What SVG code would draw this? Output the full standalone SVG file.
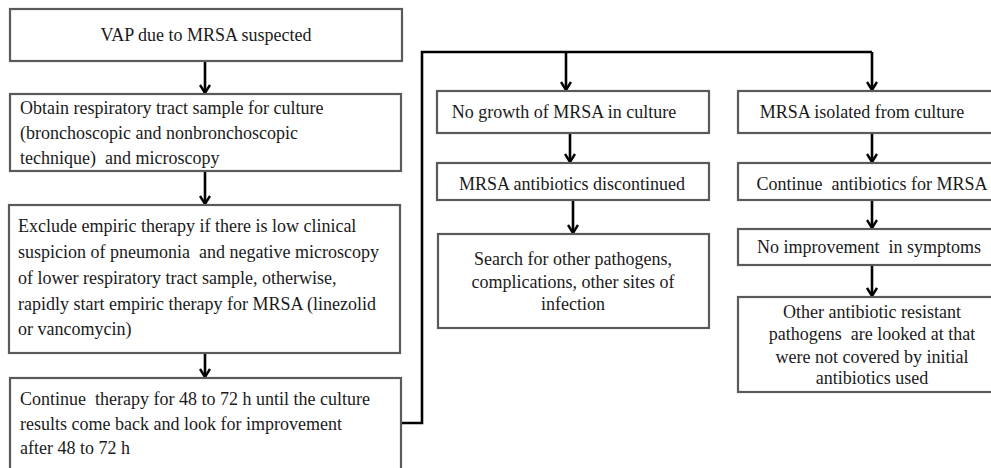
<svg xmlns="http://www.w3.org/2000/svg" width="991" height="468" viewBox="0 0 991 468">
<style>
.box{fill:#fff;stroke:#5a5a5a;stroke-width:2.2}
.t{font-size:18px;fill:#1a1a1a}
.c{text-anchor:middle}
.ln{fill:none;stroke:#000;stroke-width:2.6}
</style>
<defs>
<marker id="ah" viewBox="0 0 10 12" refX="9" refY="6" markerWidth="10" markerHeight="12" markerUnits="userSpaceOnUse" orient="auto">
<path d="M1,1 L9,6 L1,11" fill="none" stroke="#000" stroke-width="2.4"/>
</marker>
</defs>
<rect width="991" height="468" fill="#fff"/>
<g id="connectors">
<line class="ln" x1="205" y1="61" x2="205" y2="93" marker-end="url(#ah)"/>
<line class="ln" x1="205" y1="171" x2="205" y2="204" marker-end="url(#ah)"/>
<line class="ln" x1="205" y1="353" x2="205" y2="377" marker-end="url(#ah)"/>
<polyline class="ln" points="401,423 422,423 422,52 872,52"/>
<line class="ln" x1="566" y1="52" x2="566" y2="90" marker-end="url(#ah)"/>
<line class="ln" x1="872" y1="52" x2="872" y2="90" marker-end="url(#ah)"/>
<line class="ln" x1="570" y1="133" x2="570" y2="162" marker-end="url(#ah)"/>
<line class="ln" x1="573" y1="200" x2="573" y2="233" marker-end="url(#ah)"/>
<line class="ln" x1="872" y1="133" x2="872" y2="162" marker-end="url(#ah)"/>
<line class="ln" x1="872" y1="200" x2="872" y2="228" marker-end="url(#ah)"/>
<line class="ln" x1="872" y1="265" x2="872" y2="296" marker-end="url(#ah)"/>
</g>
<g font-family="Liberation Serif, DejaVu Serif, serif">
<g id="n1">
<rect class="box" x="10" y="9" width="392" height="52"/>
<text class="t c" x="206" y="41">VAP due to MRSA suspected</text>
</g>
<g id="n2">
<rect class="box" x="10" y="94" width="391" height="77"/>
<text class="t" x="20" y="114">Obtain respiratory tract sample for culture</text>
<text class="t" x="20" y="139">(bronchoscopic and nonbronchoscopic</text>
<text class="t" x="20" y="164" xml:space="preserve">technique)  and microscopy</text>
</g>
<g id="n3">
<rect class="box" x="9" y="205" width="391" height="148"/>
<text class="t" x="18" y="232">Exclude empiric therapy if there is low clinical</text>
<text class="t" x="18" y="258" xml:space="preserve">suspicion of pneumonia  and negative microscopy</text>
<text class="t" x="18" y="284">of lower respiratory tract sample, otherwise,</text>
<text class="t" x="18" y="310">rapidly start empiric therapy for MRSA (linezolid</text>
<text class="t" x="18" y="335">or vancomycin)</text>
</g>
<g id="n4">
<rect class="box" x="10" y="378" width="391" height="100"/>
<text class="t" x="20" y="405" xml:space="preserve">Continue  therapy for 48 to 72 h until the culture</text>
<text class="t" x="20" y="430">results come back and look for improvement</text>
<text class="t" x="20" y="454">after 48 to 72 h</text>
</g>
<g id="n5">
<rect class="box" x="437" y="91" width="272" height="42"/>
<text class="t c" x="564" y="118">No growth of MRSA in culture</text>
</g>
<g id="n6">
<rect class="box" x="437" y="163" width="272" height="37"/>
<text class="t c" x="572" y="190">MRSA antibiotics discontinued</text>
</g>
<g id="n7">
<rect class="box" x="438" y="234" width="271" height="94"/>
<text class="t c" x="573" y="265">Search for other pathogens,</text>
<text class="t c" x="573" y="288">complications, other sites of</text>
<text class="t c" x="573" y="310">infection</text>
</g>
<g id="n8">
<rect class="box" x="738" y="91" width="260" height="42"/>
<text class="t c" x="862" y="118">MRSA isolated from culture</text>
</g>
<g id="n9">
<rect class="box" x="738" y="163" width="260" height="37"/>
<text class="t c" x="872" y="190" xml:space="preserve">Continue  antibiotics for MRSA</text>
</g>
<g id="n10">
<rect class="box" x="738" y="229" width="260" height="36"/>
<text class="t c" x="869" y="253" xml:space="preserve">No improvement  in symptoms</text>
</g>
<g id="n11">
<rect class="box" x="738" y="297" width="260" height="95"/>
<text class="t c" x="872" y="318">Other antibiotic resistant</text>
<text class="t c" x="872" y="340" xml:space="preserve">pathogens  are looked at that</text>
<text class="t c" x="872" y="363">were not covered by initial</text>
<text class="t c" x="872" y="384">antibiotics used</text>
</g>
</g>
</svg>
